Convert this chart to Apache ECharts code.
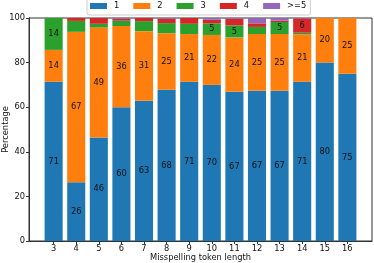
<!DOCTYPE html>
<html>
<head>
<meta charset="utf-8">
<script src="https://cdn.jsdelivr.net/npm/echarts@6/dist/echarts.min.js"></script>
<style>html,body{margin:0;padding:0;background:#fff;}#c{width:374px;height:263px;}</style>
</head>
<body>
<div id="c"></div>
<script>
const categories = [3, 4, 5, 6, 7, 8, 9, 10, 11, 12, 13, 14, 15, 16];
const seriesNames = ['1', '2', '3', '4', '>=5'];
const s1 = [71.4, 26.4, 46.4, 60.0, 62.9, 67.8, 71.4, 70.0, 66.9, 67.4, 67.4, 71.4, 80.0, 75.0];
const s2 = [14.3, 67.4, 49.4, 36.4, 31.2, 25.4, 21.4, 22.4, 24.4, 25.4, 25.4, 21.3, 20.0, 25.0];
const s3 = [14.3, 4.9, 1.6, 2.4, 4.5, 4.5, 4.6, 5.2, 5.4, 3.2, 5.4, 0.7, 0, 0];
const s4 = [0, 1.3, 2.6, 0.8, 1.4, 2.0, 2.6, 1.6, 3.0, 1.6, 0.6, 6.4, 0, 0];
const s5 = [0, 0, 0, 0.4, 0, 0.3, 0, 0.8, 0.3, 2.4, 1.2, 0.2, 0, 0];
const yTicks = [0, 20, 40, 60, 80, 100];
const colors = ['#1f77b4', '#ff7f0e', '#2ca02c', '#d62728', '#9467bd'];

const FONT = 'DejaVu Sans';
const FS = 8.3;
const allValues = [s1, s2, s3, s4, s5];

const series = allValues.map((vals, k) => ({
  name: seriesNames[k],
  type: 'bar',
  stack: 'total',
  barWidth: '80%',
  // value first so that stacking happens on the y dimension
  data: categories.map((c, i) => [vals[i], c]),
  encode: { x: 1, y: 0 },
  itemStyle: { color: colors[k] },
  label: {
    show: true,
    position: 'inside',
    color: '#111',
    fontFamily: FONT,
    fontSize: FS,
    formatter: p => (p.value[0] >= 5 ? String(Math.round(p.value[0])) : '')
  },
  emphasis: { disabled: true }
}));

const chart = echarts.init(document.getElementById('c'), null, { renderer: 'canvas' });
chart.setOption({
  animation: false,
  backgroundColor: '#fff',
  textStyle: { fontFamily: FONT },
  grid: {
    left: 29, right: 2, top: 18, bottom: 22,
    outerBoundsMode: 'none',
    containLabel: false,
    show: true, borderColor: '#333', borderWidth: 1, backgroundColor: 'transparent'
  },
  legend: {
    data: seriesNames,
    left: 87, top: -2,
    icon: 'rect',
    itemWidth: 17, itemHeight: 6,
    itemGap: 14,
    padding: [3, 4, 4, 3],
    backgroundColor: 'rgba(255,255,255,0.8)',
    borderColor: '#cccccc', borderWidth: 1, borderRadius: 2,
    textStyle: { fontFamily: FONT, fontSize: FS, color: '#111', lineHeight: 10, padding: [0, 0, 0, 2] }
  },
  xAxis: {
    type: 'value',
    min: 1.91, max: 17.09,
    name: 'Misspelling token length',
    nameLocation: 'middle',
    nameGap: 13,
    nameMoveOverlap: false,
    nameTextStyle: { fontFamily: FONT, fontSize: FS, color: '#111' },
    axisLine: { show: true, lineStyle: { color: '#333', width: 1 } },
    axisTick: { show: true, length: 3, customValues: categories, lineStyle: { color: '#333' } },
    axisLabel: { customValues: categories, margin: 4, fontFamily: FONT, fontSize: FS, color: '#111' },
    splitLine: { show: false }
  },
  yAxis: {
    type: 'value',
    min: 0, max: 100, interval: 20,
    name: 'Percentage',
    nameLocation: 'middle',
    nameGap: 19,
    nameMoveOverlap: false,
    nameTextStyle: { fontFamily: FONT, fontSize: FS, color: '#111' },
    axisLine: { show: true, lineStyle: { color: '#333', width: 1 } },
    axisTick: { show: true, length: 3, customValues: yTicks, lineStyle: { color: '#333' } },
    axisLabel: { margin: 4, fontFamily: FONT, fontSize: FS, color: '#111' },
    splitLine: { show: false }
  },
  series: series
});
</script>
</body>
</html>
